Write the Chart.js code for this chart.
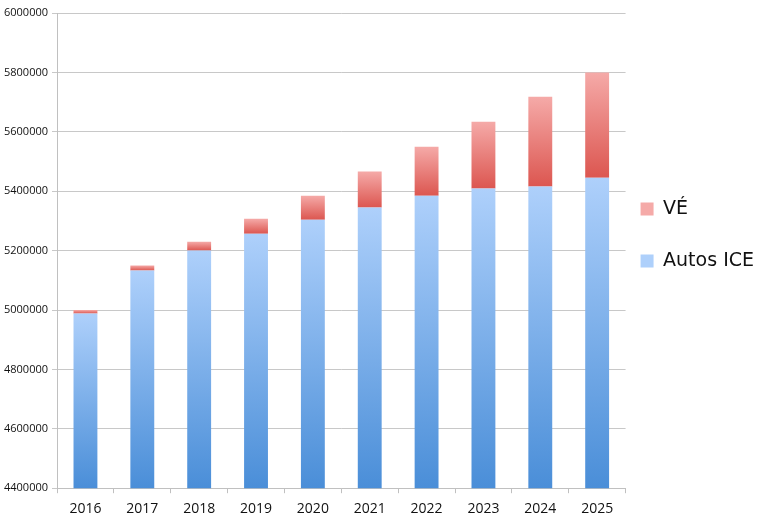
<!DOCTYPE html>
<html>
<head>
<meta charset="utf-8">
<script src="https://cdn.jsdelivr.net/npm/chart.js@4"></script>
<style>
  html, body { margin: 0; padding: 0; background: #fff; }
  #wrap { width: 768px; height: 524px; }
</style>
</head>
<body>
<div id="wrap"><canvas id="myChart"></canvas></div>
<script>
var years = ['2016', '2017', '2018', '2019', '2020', '2021', '2022', '2023', '2024', '2025'];
var autosIce = [4988000, 5133000, 5200000, 5257000, 5304000, 5345000, 5385000, 5409000, 5416000, 5445000];
var ve = [12000, 17000, 30000, 50000, 81000, 121000, 165000, 225000, 302000, 355000];
var yTicks = [4400000, 4600000, 4800000, 5000000, 5200000, 5400000, 5600000, 5800000, 6000000];

var yMin = yTicks[0];
var yMax = yTicks[yTicks.length - 1];

// gradient for each bar segment, light at the top and darker at the bottom
function segGradient(ctx, light, dark, lowFn, highFn) {
    var chart = ctx.chart;
    if (!chart.chartArea || ctx.dataIndex === undefined) return dark;
    var y = chart.scales.y;
    var i = ctx.dataIndex;
    var top = y.getPixelForValue(highFn(i));
    var bottom = y.getPixelForValue(lowFn(i));
    if (!isFinite(top) || !isFinite(bottom) || top === bottom) return dark;
    var g = chart.ctx.createLinearGradient(0, top, 0, bottom);
    g.addColorStop(0, light);
    g.addColorStop(1, dark);
    return g;
}

function getDataSets() {
    return [{
        label: 'Autos ICE',
        data: autosIce,
        backgroundColor: function (ctx) {
            if (ctx.type !== 'data') return '#7aaee8';
            return segGradient(ctx, '#aed0fb', '#4a8ed8',
                function () { return yMin; },
                function (i) { return autosIce[i]; });
        },
        borderWidth: 0,
        barPercentage: 0.42,
        categoryPercentage: 1
    }, {
        label: 'VÉ',
        data: ve,
        backgroundColor: function (ctx) {
            if (ctx.type !== 'data') return '#e87470';
            return segGradient(ctx, '#f5aaa8', '#dc5650',
                function (i) { return autosIce[i]; },
                function (i) { return autosIce[i] + ve[i]; });
        },
        borderWidth: 0,
        barPercentage: 0.42,
        categoryPercentage: 1
    }];
}

// nudge the legend a little to the left, closer to the plot
var legendNudge = {
    id: 'legendNudge',
    afterLayout: function (chart) {
        if (chart.legend) {
            chart.legend.left -= 18;
            chart.legend.right -= 18;
        }
    }
};

var config = {
    type: 'bar',
    data: {
        labels: years,
        datasets: getDataSets()
    },
    plugins: [legendNudge],
    options: {
        responsive: true,
        maintainAspectRatio: false,
        animation: false,
        layout: { padding: { top: 13, right: -14, left: 0, bottom: 0 } },
        plugins: {
            tooltip: { enabled: false },
            legend: {
                position: 'right',
                align: 'start',
                reverse: true,
                title: {
                    display: true,
                    text: '',
                    padding: { top: 0, bottom: 139 }
                },
                labels: {
                    color: '#111',
                    font: { family: 'DejaVu Sans', size: 19 },
                    boxWidth: 13,
                    boxHeight: 13,
                    padding: 33
                }
            }
        },
        scales: {
            x: {
                stacked: true,
                grid: {
                    display: true,
                    drawOnChartArea: false,
                    drawTicks: true,
                    tickLength: 5,
                    offset: true,
                    color: '#c0c0c0'
                },
                border: { color: '#c0c0c0' },
                ticks: {
                    color: '#111',
                    font: { family: 'Open Sans', size: 14 },
                    padding: 7
                }
            },
            y: {
                stacked: true,
                min: yMin,
                max: yMax,
                afterBuildTicks: function (axis) {
                    axis.ticks = yTicks.map(function (v) { return { value: v }; });
                },
                grid: {
                    color: '#c8c8c8',
                    tickLength: 5
                },
                border: { color: '#c0c0c0' },
                ticks: {
                    color: '#111',
                    font: { family: 'Open Sans', size: 11 },
                    padding: 4,
                    callback: function (v) { return String(v); }
                }
            }
        }
    }
};

var myChart = new Chart(document.getElementById('myChart'), config);
</script>
</body>
</html>
